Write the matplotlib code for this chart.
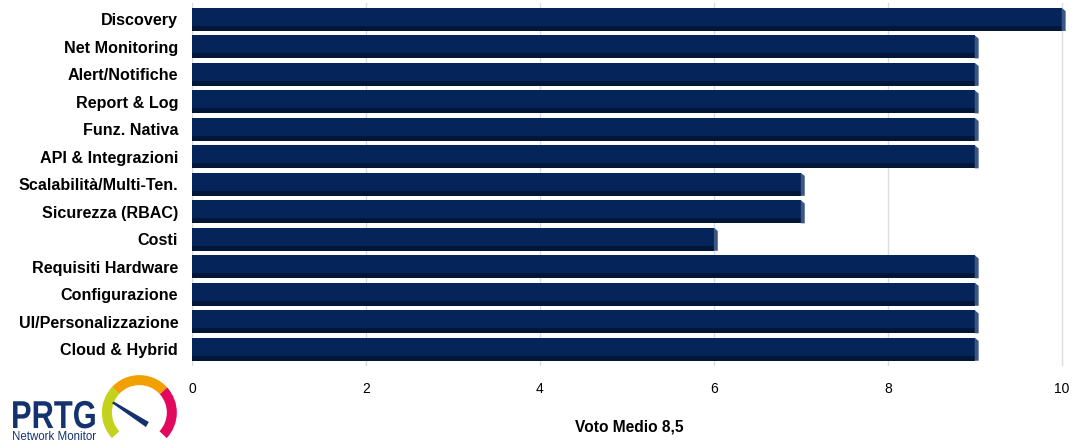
import matplotlib

matplotlib.use("Agg")
import matplotlib.pyplot as plt
import numpy as np
from matplotlib.patches import Polygon, Wedge, PathPatch
from matplotlib.textpath import TextPath
from matplotlib.font_manager import FontProperties
from matplotlib.transforms import Affine2D

plt.rcParams["font.family"] = ["Liberation Sans", "DejaVu Sans"]

categories = ["Discovery", "Net Monitoring", "Alert/Notifiche", "Report & Log",
              "Funz. Nativa", "API & Integrazioni", "Scalabilità/Multi-Ten.",
              "Sicurezza (RBAC)", "Costi", "Requisiti Hardware",
              "Configurazione", "UI/Personalizzazione", "Cloud & Hybrid"]
scores = [10, 9, 9, 9, 9, 9, 7, 7, 6, 9, 9, 9, 9]
xticks = [0, 2, 4, 6, 8, 10]
xlabel = "Voto Medio 8,5"

FACE = "#05245a"
SHADE = "#021638"
CAP = "#3b5684"
NAVY = "#14336e"

fig = plt.figure(figsize=(10.79, 4.43), dpi=100)
ax = fig.add_axes([0.178, 0.1745, 0.810, 0.819])

y = np.arange(len(categories))
h = 0.84
ax.barh(y, scores, height=h, color=FACE, zorder=3)
# darker lower strip for the 3D look
ax.barh(y + h / 2 - 0.09, scores, height=0.18, color=SHADE, zorder=3)
# lighter bevel at the bar end
for yi, v in zip(y, scores):
    d = 0.045
    ax.add_patch(Polygon([(v, yi - h / 2), (v + d, yi - h / 2 + 0.12),
                          (v + d, yi + h / 2), (v, yi + h / 2)],
                         closed=True, color=CAP, zorder=3, lw=0))

ax.set_xlim(0, 10.05)
ax.set_ylim(len(categories) - 0.4, -0.6)
ax.set_xticks(xticks)
ax.set_xticklabels([str(t) for t in xticks], fontsize=10)
ax.set_yticks(y)
ax.set_yticklabels(categories, fontsize=11.6, fontweight="bold")
ax.tick_params(axis="y", length=0, pad=10)
ax.tick_params(axis="x", length=0, pad=12)
ax.grid(axis="x", color="#dcdcdc", lw=1, zorder=0)
for s in ax.spines.values():
    s.set_visible(False)
ax.set_xlabel(xlabel, fontsize=11.2, fontweight="bold", labelpad=17)

# PRTG logo (approximate), pixel-like coordinates (y = pixel - 372)
lax = fig.add_axes([0, 0, 0.175, 0.16])
lax.set_xlim(0, 189)
lax.set_ylim(71, 0)
lax.set_axis_off()
tp = TextPath((0, 0), "PRTG", size=30,
              prop=FontProperties(family="Liberation Sans", weight="bold"))
tr = Affine2D().scale(1.03, -1.3).translate(11, 56)
lax.add_patch(PathPatch(tr.transform_path(tp), color=NAVY, lw=0))
lax.text(12, 68, "Network Monitor", fontsize=8.3, color=NAVY,
         va="baseline", ha="left")
cx, cy, r = 139.5, 40.5, 37.5
for t1, t2, c in [(137, 223, "#c3d21a"), (223, 318, "#f2a000"),
                  (318, 403, "#e2085e")]:
    lax.add_patch(Wedge((cx, cy), r, t1, t2, width=10, color=c, lw=0))
lax.add_patch(Polygon([(112, 31), (114, 29.5), (149, 50), (146, 55)],
                      closed=True, color=NAVY, lw=0))

fig.savefig("out.png", dpi=100)
